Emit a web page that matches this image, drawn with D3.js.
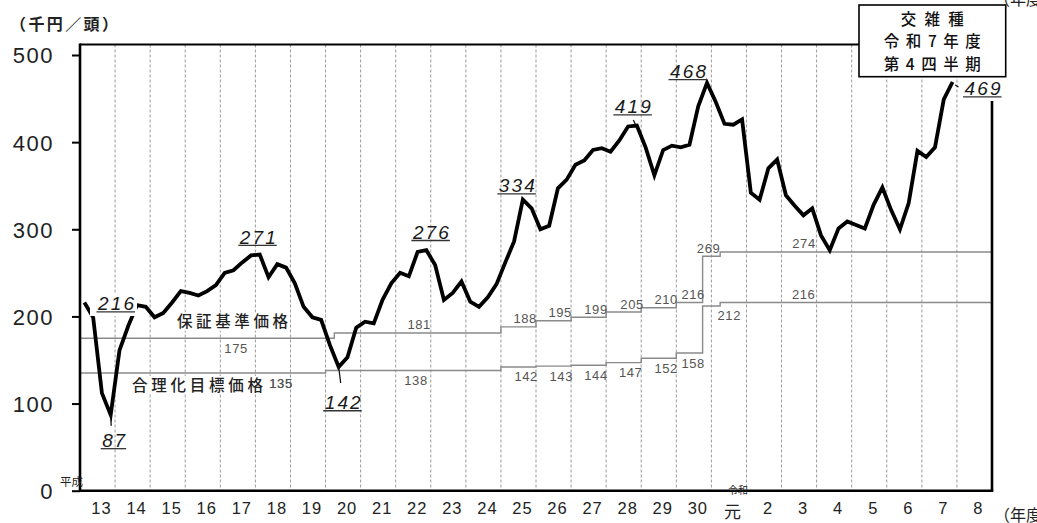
<!DOCTYPE html>
<html><head><meta charset="utf-8">
<script src="https://cdn.jsdelivr.net/npm/d3@7"></script>
<style>
html,body{margin:0;padding:0;background:#fff;}
svg{display:block;}
</style></head>
<body>
<svg id="c" width="1037" height="523"></svg>
<script>
// ---- data ----
const fiscalYears = ["13","14","15","16","17","18","19","20","21","22","23","24","25","26","27","28","29","30","元","2","3","4","5","6","7","8"];
// quarterly price (千円/頭), H13 Q1 .. R7 Q4
const price = [
  216,199,112,87, 161,189,213,211, 199,204,216,229, 227,224,229,236,
  250,253,262,270, 271,245,260,256, 238,211,199,196, 167,142,153,187,
  194,192,219,238, 250,246,274,276, 259,219,227,240, 217,211,222,237,
  262,286,334,324, 300,304,347,357, 374,379,391,393, 389,402,418,419,
  394,362,391,396, 394,397,441,468, 446,421,420,426, 342,334,370,380,
  339,327,316,324, 293,276,301,309, 305,301,328,348, 322,300,330,390,
  383,394,449,469
];
// 保証基準価格 steps (start quarter index, value)
const stdStartQ = [0,29,48,52,56,60,64,68,71,73];
const stdPrice  = [175,181,188,195,199,205,210,216,269,274];
// 合理化目標価格 steps
const tgtStartQ = [0,28,48,52,56,60,64,68,71,73];
const tgtPrice  = [135,138,142,143,144,147,152,158,212,216];
const endQ = 104;
// annotated quarters (peaks / troughs)
const peakQ = [0,3,20,29,39,50,63,71,99];
const yTicks = [0,100,200,300,400,500];

// ---- layout ----
const svg = d3.select("#c");
const L = 80, R = 992, B = 490.7, T = 44.5;
const x = d3.scaleLinear().domain([0, 26]).range([L, R]);
const xq = q => x(q / 4);
const xBand = d3.scaleBand().domain(fiscalYears).range([L, R]).padding(0);
const y = d3.scaleLinear().domain([0, 500]).range([B, 55]);
const NUM = "'Liberation Sans', Arial, sans-serif";
const JP = "'Noto Sans CJK JP', 'Noto Sans', sans-serif";

// gridlines at fiscal year boundaries
svg.append("g").selectAll("line").data(d3.range(1, 26)).join("line")
  .attr("x1", d => x(d)).attr("x2", d => x(d))
  .attr("y1", T).attr("y2", B)
  .attr("stroke", "#9a9a9a").attr("stroke-width", 1).attr("stroke-dasharray", "3,2");

// step lines
function stepPts(starts, vals) {
  const pts = starts.map((s, i) => ({q: s, v: vals[i]}));
  pts.push({q: endQ, v: vals[vals.length - 1]});
  return pts;
}
const stepLine = d3.line().x(d => xq(d.q)).y(d => y(d.v)).curve(d3.curveStepAfter);
[[stdStartQ, stdPrice], [tgtStartQ, tgtPrice]].forEach(([s, v]) => {
  svg.append("path").attr("d", stepLine(stepPts(s, v)))
    .attr("fill", "none").attr("stroke", "#8a8a8a").attr("stroke-width", 1.4);
});

// step value labels (anchor in fiscal-year units, side)
const stdLabelAt = [4.45, 9.67, 12.69, 13.69, 14.71, 15.74, 16.71, 17.48, 17.92, 20.64];
const stdLabelSide = ["b","a","a","a","a","a","a","a","a","a"];
const tgtLabelAt = [5.73, 9.58, 12.72, 13.72, 14.71, 15.70, 16.71, 17.48, 18.51, 20.63];
const tgtLabelSide = ["b","b","b","b","b","b","b","b","b","a"];
function stepLabels(vals, at, side) {
  svg.append("g").selectAll("text").data(vals).join("text")
    .attr("x", (d, i) => x(at[i]))
    .attr("y", (d, i) => side[i] === "a" ? y(d) - 3.5 : y(d) + 14.5)
    .attr("text-anchor", "middle")
    .attr("font-family", NUM).attr("font-size", 13).attr("letter-spacing", 0.6)
    .attr("fill", "#555").text(d => d);
}
stepLabels(stdPrice, stdLabelAt, stdLabelSide);
stepLabels(tgtPrice, tgtLabelAt, tgtLabelSide);

// series names
function seriesName(txt, x0, cy, w) {
  svg.append("rect").attr("x", x0 - 2).attr("y", cy - 9).attr("width", w + 4).attr("height", 18).attr("fill", "#fff");
  svg.append("text").attr("x", x0).attr("y", cy + 5.5)
    .attr("font-family", JP).attr("font-size", 15.5).attr("font-weight", 500).attr("fill", "#222")
    .attr("textLength", w).attr("lengthAdjust", "spacing").text(txt);
}
seriesName("保証基準価格", 177, 321.7, 111);
seriesName("合理化目標価格", 132, 385, 131);
// re-draw 135 label over the knockout
svg.append("text").attr("x", x(tgtLabelAt[0])).attr("y", y(tgtPrice[0]) + 14.5)
  .attr("text-anchor", "middle").attr("font-family", NUM).attr("font-size", 13)
  .attr("letter-spacing", 0.6).attr("fill", "#555").text(tgtPrice[0]);

// main price line
svg.append("path")
  .attr("d", d3.line().x((d, i) => xq(i + 0.5)).y(d => y(d))(price))
  .attr("fill", "none").attr("stroke", "#000").attr("stroke-width", 3.8)
  .attr("stroke-linejoin", "miter").attr("stroke-miterlimit", 4);

// peak labels: offsets of label centre from the point
const peakLayout = {
  0:  {dx: 31.6, dy: 0.5, knock: true},
  3:  {dx: 3,    dy: 25,  lead: [0, 0, 0.5, 11]},
  20: {dx: -2,   dy: -18},
  29: {dx: 4,    dy: 35,  lead: [0, 0, 2, 16]},
  39: {dx: 4.5,  dy: -18.5},
  50: {dx: -6,   dy: -14.6},
  63: {dx: -4,   dy: -19.6, lead: [-3.5, -5.5, -1, 0]},
  71: {dx: -19,  dy: -12},
  99: {dx: 30,   dy: 6,   lead: [2.6, 3, 6, 5]}
};
const pk = svg.append("g");
peakQ.forEach(q => {
  const v = price[q], lay = peakLayout[q];
  const px = xq(q + 0.5), py = y(v);
  const cx = px + lay.dx, cy = py + lay.dy;
  const txt = String(v);
  const w = txt.length === 3 ? 36 : 23;
  if (lay.knock) {
    pk.append("rect").attr("x", cx - 26).attr("y", cy - 9).attr("width", 47).attr("height", 22).attr("fill", "#fff");
  }
  if (lay.lead) {
    pk.append("line").attr("x1", px + lay.lead[0]).attr("y1", py + lay.lead[1])
      .attr("x2", px + lay.lead[2]).attr("y2", py + lay.lead[3])
      .attr("stroke", "#111").attr("stroke-width", 1.3);
  }
  pk.append("text").attr("x", cx - w / 2).attr("y", cy + 7)
    .attr("font-family", NUM).attr("font-style", "italic").attr("font-size", 19)
    .attr("fill", "#1a1a1a").attr("textLength", w).attr("lengthAdjust", "spacing").text(txt);
  pk.append("line").attr("x1", cx - w / 2 - 1.5).attr("x2", cx + w / 2 + 1)
    .attr("y1", cy + 8.8).attr("y2", cy + 8.8).attr("stroke", "#333").attr("stroke-width", 1.3);
});

// axes
const ya = svg.append("g").attr("transform", `translate(${L},0)`)
  .call(d3.axisLeft(y).tickValues(yTicks).tickSize(8).tickSizeOuter(0).tickPadding(18));
ya.select(".domain").remove();
ya.selectAll(".tick line").attr("stroke", "#000").attr("stroke-width", 2);
ya.selectAll(".tick text").attr("font-family", NUM).attr("font-size", 22).attr("fill", "#222")
  .attr("letter-spacing", 1.5).attr("dy", "0.36em");

const xa = svg.append("g").attr("transform", `translate(4,${B})`)
  .call(d3.axisBottom(xBand).tickSize(0).tickPadding(12));
xa.select(".domain").remove();
xa.selectAll(".tick text").attr("font-family", d => d === "元" ? JP : NUM)
  .attr("font-size", d => d === "元" ? 17 : 16.5).attr("fill", "#222").attr("letter-spacing", 1)
  .attr("dy", d => d === "元" ? "0.88em" : "0.71em");

// frame lines
svg.append("line").attr("x1", L).attr("x2", L).attr("y1", T - 1).attr("y2", B + 1)
  .attr("stroke", "#000").attr("stroke-width", 2.6);
svg.append("line").attr("x1", L - 1).attr("x2", R + 1.3).attr("y1", B).attr("y2", B)
  .attr("stroke", "#000").attr("stroke-width", 2.6);
svg.append("line").attr("x1", L).attr("x2", 859).attr("y1", T).attr("y2", T)
  .attr("stroke", "#000").attr("stroke-width", 2);
svg.append("line").attr("x1", R).attr("x2", R).attr("y1", 101).attr("y2", B)
  .attr("stroke", "#000").attr("stroke-width", 2.6);

// era labels
svg.append("text").attr("x", 60).attr("y", 485.5).attr("font-family", JP).attr("font-size", 11.5)
  .attr("fill", "#222").text("平成");
svg.append("text").attr("x", 728).attr("y", 494).attr("font-family", JP).attr("font-size", 10)
  .attr("fill", "#222").text("令和");

// unit labels
svg.append("text").attr("x", 10).attr("y", 30).attr("font-family", JP).attr("font-size", 16)
  .attr("font-weight", "bold").attr("fill", "#222")
  .attr("textLength", 108).attr("lengthAdjust", "spacing").text("（千円／頭）");
svg.append("text").attr("x", 994).attr("y", 521).attr("font-family", JP).attr("font-size", 16)
  .attr("fill", "#222").text("（年度");
svg.append("text").attr("x", 994).attr("y", 5).attr("font-family", JP).attr("font-size", 16)
  .attr("fill", "#222").text("（年度");

// title box
svg.append("rect").attr("x", 859).attr("y", 5).attr("width", 146.7).attr("height", 71.7)
  .attr("fill", "#fff").attr("stroke", "#000").attr("stroke-width", 1.6);
const boxLines = [["交雑種", 24.5, 63], ["令和7年度", 47, 97], ["第4四半期", 69.5, 97]];
boxLines.forEach(([t, by, w]) => {
  svg.append("text").attr("x", 932.3 - w / 2).attr("y", by).attr("font-family", JP)
    .attr("font-size", 15.5).attr("font-weight", 500).attr("fill", "#111")
    .attr("textLength", w).attr("lengthAdjust", "spacing").text(t);
});
</script>
</body></html>
